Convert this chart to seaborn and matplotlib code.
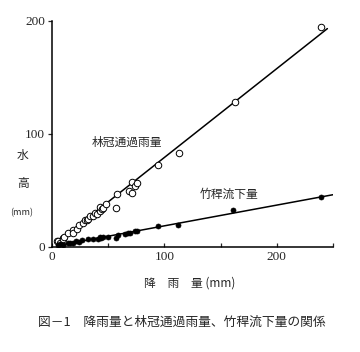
import matplotlib
matplotlib.use("Agg")
import matplotlib.pyplot as plt
import seaborn as sns
import pandas as pd

sns.set_style("ticks")
plt.rcParams['font.family'] = ['Noto Sans CJK JP', 'DejaVu Sans']

# 林冠通過雨量 (open circles)
rain_tf = [4.8, 5.6, 7.1, 9.5, 10.1, 11, 14.6, 18.5, 19, 22, 24.4, 28, 29.5, 31, 32.4,
           33.9, 36.9, 38.4, 39.9, 42.9, 43.1, 44.4, 45, 48.2, 57.1, 57.4, 68.2, 71.1,
           71.1, 73.8, 75.9, 94.6, 113.4, 162.8, 239.3]
tf = [5.4, 5.4, 3, 7.4, 6.9, 8.3, 11.9, 14.9, 11.9, 15.5, 19.3, 20.9, 23.8, 23.2, 24.4,
      27.4, 26.8, 29.8, 29.2, 31.3, 35.1, 33.4, 34.2, 37.8, 34.2, 46.7, 49.1, 47.6,
      57.1, 53.6, 56.3, 72.3, 83.3, 128, 194.3]

# 竹稈流下量 (filled circles)
rain_sf = [5.6, 7.1, 10.1, 14.6, 16, 19, 21.4, 24, 26.5, 32.4, 36.9, 40.8, 42.3, 44, 45,
           49.7, 57.1, 58.6, 65, 67.3, 69, 73.5, 75.6, 94, 112.2, 161.3, 239.3]
sf = [1.5, 2.1, 1.5, 3.6, 3, 3.6, 5.4, 4.5, 6, 6.5, 6.5, 6.5, 8.3, 7.5, 9, 8.3, 7.4,
      10.4, 11, 12.5, 12, 14, 14, 18.75, 19, 32.1, 44.3]

# fitted lines
tf_line_x = [4, 245]
tf_line_y = [3.5, 193]
sf_line_x = [6, 250]
sf_line_y = [1.2, 46]

df_tf = pd.DataFrame({'rain': rain_tf, 'val': tf})
df_sf = pd.DataFrame({'rain': rain_sf, 'val': sf})

fig = plt.figure(figsize=(3.6, 3.52), dpi=100)
ax = fig.add_axes([52/360, 1-246.7/352, 281/360, 226/352])

sns.lineplot(x=tf_line_x, y=tf_line_y, ax=ax, color='black', lw=1.1)
sns.lineplot(x=sf_line_x, y=sf_line_y, ax=ax, color='black', lw=1.1)
sns.scatterplot(data=df_tf, x='rain', y='val', ax=ax, s=22, facecolor='white',
                edgecolor='black', linewidth=0.7, zorder=3)
sns.scatterplot(data=df_sf, x='rain', y='val', ax=ax, s=13, color='black',
                edgecolor='black', linewidth=0.5, zorder=3)

ax.set_xlim(0, 250)
ax.set_ylim(0, 200)
ax.set_xticks([0, 50, 100, 150, 200, 250])
ax.set_xticklabels(['0', '', '100', '', '200', ''])
ax.set_yticks([0, 100, 200])
ax.tick_params(axis='x', direction='in', length=3, width=0.9, pad=3, labelsize=9.5)
ax.tick_params(axis='y', direction='out', length=3, width=0.9, pad=2, labelsize=9.5)
for lab in ax.get_xticklabels() + ax.get_yticklabels():
    lab.set_family(['Liberation Serif', 'DejaVu Serif'])
for side in ['top', 'right']:
    ax.spines[side].set_visible(False)
for side in ['left', 'bottom']:
    ax.spines[side].set_linewidth(1.1)
    ax.spines[side].set_color('black')

ax.set_xlabel('')
ax.set_ylabel('')
ax.text(35, 92, '林冠通過雨量', fontsize=8.5, va='center', ha='left')
ax.text(131, 46, '竹稈流下量', fontsize=8.5, va='center', ha='left')

fig.text(23/360, 1-155/352, '水', fontsize=8.5, ha='center', va='center')
fig.text(23/360, 1-183/352, '高', fontsize=8.5, ha='center', va='center')
fig.text(22/360, 1-213/352, '(mm)', fontsize=6.5, ha='center', va='center')
fig.text(190/360, 1-283/352, '降　雨　量 (mm)', fontsize=8.5, ha='center', va='center')
fig.text(182/360, 1-322/352, '図－1　降雨量と林冠通過雨量、竹稈流下量の関係',
         fontsize=9.2, ha='center', va='center')

fig.savefig('out.png', dpi=100)
